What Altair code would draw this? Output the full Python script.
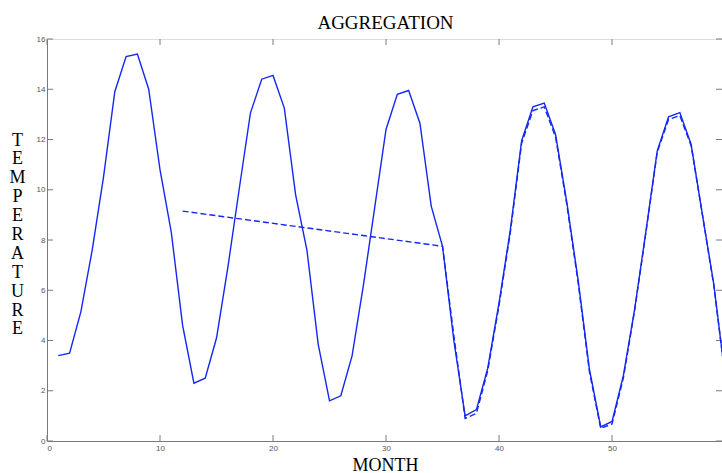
import altair as alt
import pandas as pd

# ---- data ----
months = list(range(1, 61))
temps = [3.4, 3.5, 5.15, 7.6, 10.5, 13.9, 15.3, 15.4, 14.0, 10.8, 8.3, 4.6,
         2.3, 2.5, 4.1, 6.9, 10.0, 13.05, 14.4, 14.55, 13.25, 9.8, 7.6, 3.85,
         1.6, 1.8, 3.4, 6.2, 9.3, 12.4, 13.8, 13.95, 12.65, 9.35, 7.75, 4.0,
         1.0, 1.25, 2.9, 5.5, 8.4, 11.95, 13.3, 13.45, 12.2, 9.5, 6.4, 2.85,
         0.56, 0.78, 2.6, 5.25, 8.35, 11.55, 12.9, 13.07, 11.8, 9.0, 6.25, 2.6]

agg_months = [12, 35, 36, 37, 38, 39, 40, 41, 42, 43, 44, 45, 46, 47, 48,
              49, 50, 51, 52, 53, 54, 55, 56, 57, 58, 59, 60]
agg_temps = [9.15, 7.75, 4.2, 0.9, 1.1, 2.8, 5.4, 8.3, 11.85, 13.15, 13.3, 12.1,
             9.4, 6.3, 2.75, 0.5, 0.68, 2.5, 5.2, 8.3, 11.5, 12.8, 12.95, 11.75,
             9.0, 6.2, 2.6]

x_ticks = [0, 10, 20, 30, 40, 50]
y_ticks = [0, 2, 4, 6, 8, 10, 12, 14, 16]
title_text = ["AGGREGATION"]

W, H = 675, 402
TICK = 6
BLUE = "#1428f0"
GRAY = "#7a7a7a"

raw = pd.DataFrame({"month": months, "temp": temps})
agg = pd.DataFrame({"month": agg_months, "temp": agg_temps})
xt = pd.DataFrame({"v": x_ticks})
yt = pd.DataFrame({"v": y_ticks})
tt = pd.DataFrame({"t": title_text})

xscale = alt.Scale(domain=[0, 59.73], nice=False, zero=False)
yscale = alt.Scale(domain=[0, 16], nice=False)

x_axis = alt.Axis(
    values=x_ticks, ticks=False, grid=False, domainColor=GRAY, domainWidth=1,
    labelFont="Liberation Sans", labelFontSize=8, labelColor="#555555", labelPadding=3,
    title="MONTH", titleFont="Liberation Serif", titleFontSize=18, titleFontWeight="normal",
    titleColor="black", titleX=338, titleY=29, titleBaseline="alphabetic", titleAlign="center",
)
y_axis = alt.Axis(
    values=y_ticks, ticks=False, grid=False, domainColor=GRAY, domainWidth=1,
    labelFont="Liberation Sans", labelFontSize=8, labelColor="#555555", labelPadding=2,
    title=list("TEMPERATURE"), titleFont="Liberation Serif", titleFontSize=18,
    titleFontWeight="normal", titleColor="black", titleAngle=0, titleAlign="center",
    titleBaseline="top", titleX=-30, titleY=92, titleLineHeight=18.9,
)

solid = alt.Chart(raw).mark_line(color=BLUE, strokeWidth=1.4, clip=True).encode(
    x=alt.X("month:Q", scale=xscale, axis=x_axis),
    y=alt.Y("temp:Q", scale=yscale, axis=y_axis),
)
dashed = alt.Chart(agg).mark_line(color=BLUE, strokeWidth=1.4, strokeDash=[6, 3], clip=True).encode(
    x=alt.X("month:Q", scale=xscale),
    y=alt.Y("temp:Q", scale=yscale),
)

bottom_ticks = alt.Chart(xt).mark_rule(color=GRAY, strokeWidth=1).encode(
    x=alt.X("v:Q", scale=xscale), y=alt.value(H), y2=alt.value(H - TICK))
top_ticks = alt.Chart(xt).mark_rule(color=GRAY, strokeWidth=1).encode(
    x=alt.X("v:Q", scale=xscale), y=alt.value(0), y2=alt.value(TICK))
left_ticks = alt.Chart(yt).mark_rule(color=GRAY, strokeWidth=1).encode(
    y=alt.Y("v:Q", scale=yscale), x=alt.value(0), x2=alt.value(TICK))
right_ticks = alt.Chart(yt).mark_rule(color=GRAY, strokeWidth=1).encode(
    y=alt.Y("v:Q", scale=yscale), x=alt.value(W - TICK), x2=alt.value(W))

title = alt.Chart(tt).mark_text(
    font="Liberation Serif", fontSize=19, color="black", align="center",
    baseline="alphabetic",
).encode(text="t:N", x=alt.value(W / 2 + 1), y=alt.value(-10))

chart = alt.layer(
    bottom_ticks, top_ticks, left_ticks, right_ticks, solid, dashed, title
).properties(
    width=W, height=H,
    autosize=alt.AutoSizeParams(type="none"),
    padding={"left": 47, "top": 39, "right": 0, "bottom": 32},
).configure_view(
    stroke=GRAY, strokeWidth=1
).configure(background="white")

chart.save("out.html", embed_options={"renderer": "svg", "actions": False})
